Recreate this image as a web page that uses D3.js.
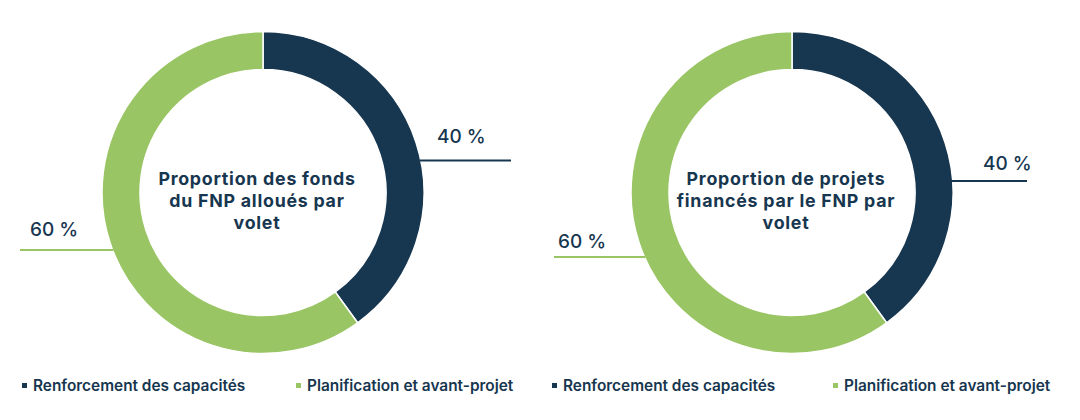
<!DOCTYPE html>
<html>
<head>
<meta charset="utf-8">
<script src="https://cdn.jsdelivr.net/npm/d3@7"></script>
<style>
  html, body { margin: 0; padding: 0; background: #ffffff; }
  svg { display: block; }
  text { font-family: Inter, "Noto Sans", sans-serif; }
</style>
</head>
<body>
<svg id="chart" width="1080" height="420"></svg>
<script>
// ---- Data ----
const categories = ["Renforcement des capacités", "Planification et avant-projet"];
const fundsShare = [40, 60];      // Proportion des fonds du FNP alloués par volet (%)
const projectsShare = [40, 60];   // Proportion de projets financés par le FNP par volet (%)
const titleFunds = ["Proportion des fonds", "du FNP alloués par", "volet"];
const titleProjects = ["Proportion de projets", "financés par le FNP par", "volet"];

// ---- Styles / layout ----
const colors = ["#17364f", "#99c564"];
const textColor = "#17364f";
const outerR = 161, innerR = 123;
const cy = 192.5;

const charts = [
  { cx: 263, values: fundsShare, title: titleFunds,
    labels: [ { lineDy: -32, lineEnd: 248, textX: 174, textDy: -50 },
              { lineDy: 57.5, lineEnd: -243, textX: -233, textDy: 43.5 } ],
    legendX: [22, 296] },
  { cx: 792, values: projectsShare, title: titleProjects,
    labels: [ { lineDy: -11.5, lineEnd: 235, textX: 191, textDy: -22.5 },
              { lineDy: 64.5, lineEnd: -238, textX: -234, textDy: 55.5 } ],
    legendX: [552, 833] }
];

const svg = d3.select("#chart");
const pie = d3.pie().sort(null).value(d => d);
const arc = d3.arc().innerRadius(innerR).outerRadius(outerR);
const fmt = v => v + "\u00a0%";

charts.forEach(c => {
  const g = svg.append("g").attr("transform", `translate(${c.cx},${cy})`);
  g.selectAll("path.slice")
    .data(pie(c.values))
    .join("path")
    .attr("class", "slice")
    .attr("d", arc)
    .attr("fill", (d, i) => colors[i])
    .attr("stroke", "#ffffff")
    .attr("stroke-width", 1.5);

  // leader lines + labels
  pie(c.values).forEach((d, i) => {
    const L = c.labels[i];
    const edge = Math.sqrt(outerR * outerR - L.lineDy * L.lineDy) - 1;
    const x1 = L.lineEnd > 0 ? edge : -edge;
    g.append("line")
      .attr("x1", x1).attr("x2", L.lineEnd)
      .attr("y1", L.lineDy).attr("y2", L.lineDy)
      .attr("stroke", colors[i]).attr("stroke-width", 2);
    g.append("text")
      .attr("x", L.textX).attr("y", L.textDy)
      .attr("fill", textColor)
      .attr("font-size", 19).attr("font-weight", 500)
      .text(fmt(d.data));
  });

  // center title (one text element per line)
  c.title.forEach((line, k) => {
    g.append("text")
      .attr("text-anchor", "middle")
      .attr("fill", textColor)
      .attr("font-size", 17.8).attr("font-weight", 700)
      .attr("letter-spacing", 0.75)
      .attr("x", -6).attr("y", -7.5 + k * 21.8)
      .text(line);
  });

  // legend
  categories.forEach((cat, i) => {
    svg.append("rect")
      .attr("x", c.legendX[i]).attr("y", 383)
      .attr("width", 5).attr("height", 5)
      .attr("fill", colors[i]);
    svg.append("text")
      .attr("x", c.legendX[i] + 11).attr("y", 390.5)
      .attr("fill", textColor)
      .attr("font-size", 15.4).attr("font-weight", 600)
      .text(cat);
  });
});
</script>
</body>
</html>
